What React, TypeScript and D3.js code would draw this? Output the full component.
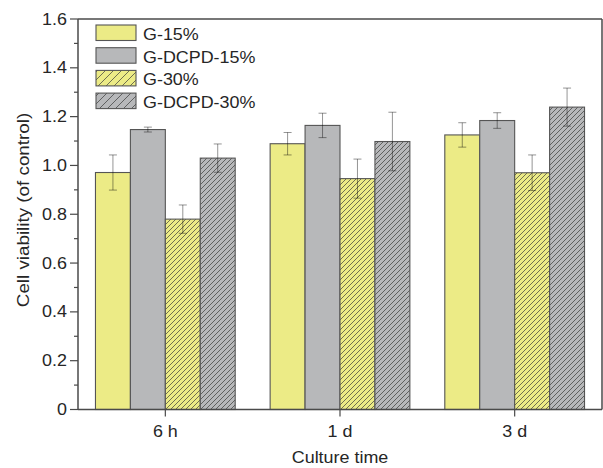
import React from "react";
import * as d3 from "d3";

const categories = ["6 h", "1 d", "3 d"];
const seriesNames = ["G-15%", "G-DCPD-15%", "G-30%", "G-DCPD-30%"];
const gValues15 = [0.971, 1.089, 1.125];
const gDcpd15 = [1.147, 1.164, 1.184];
const gValues30 = [0.78, 0.946, 0.97];
const gDcpd30 = [1.03, 1.098, 1.239];
const gErr15 = [0.072, 0.046, 0.05];
const gDcpdErr15 = [0.01, 0.05, 0.032];
const gErr30 = [0.058, 0.08, 0.073];
const gDcpdErr30 = [0.058, 0.12, 0.078];
const yTicks = [0, 0.2, 0.4, 0.6, 0.8, 1.0, 1.2, 1.4, 1.6];

const W = 603;
const H = 468;
const left = 78;
const right = 602;
const top = 19;
const bottom = 409.5;

const fills = ["#ECEB86", "#B7B8BA", "url(#hatchY)", "url(#hatchG)"];
const legendFills = ["#ECEB86", "#B7B8BA", "url(#hatchYL)", "url(#hatchGL)"];
const TEXT = "#262626";
const AX = "#4a4a4a";
const FONT = "'Liberation Sans', Arial, sans-serif";
const SX = 1.12;

function T({ x, y, anchor = "start", children, rotate = 0, size = 16, sx = SX }: any) {
  return (
    <text
      transform={`translate(${x},${y}) rotate(${rotate}) scale(${sx},1)`}
      textAnchor={anchor}
      fontFamily={FONT}
      fontSize={size}
      fill={TEXT}
    >
      {children}
    </text>
  );
}

export default function App() {
  const values = [gValues15, gDcpd15, gValues30, gDcpd30];
  const errs = [gErr15, gDcpdErr15, gErr30, gDcpdErr30];
  const x0 = d3.scaleBand().domain(categories).range([left, right]).paddingInner(0.2).paddingOuter(0.1);
  const x1 = d3.scaleBand().domain(seriesNames).range([0, x0.bandwidth()]).padding(0);
  const y = d3.scaleLinear().domain([0, 1.6]).range([bottom, top]);
  const minor = d3.range(0, 1.61, 0.1);

  return (
    <svg width={W} height={H} style={{ position: "absolute", left: 0, top: 0, background: "#fff" }}>
      <defs>
        {[
          ["hatchY", "#ECEB86", 5],
          ["hatchG", "#B7B8BA", 5],
          ["hatchYL", "#ECEB86", 8],
          ["hatchGL", "#B7B8BA", 8],
        ].map(([id, c, s]: any) => (
          <pattern key={id} id={id} patternUnits="userSpaceOnUse" width={s} height={s}>
            <rect width={s} height={s} fill={c} />
            <path d={`M0,${s} L${s},0 M${-s / 2},${s / 2} L${s / 2},${-s / 2} M${s / 2},${s * 1.5} L${s * 1.5},${s / 2}`} stroke="#3a3a3a" strokeWidth={0.7} />
          </pattern>
        ))}
      </defs>

      {/* bars */}
      {categories.map((c, ci) =>
        seriesNames.map((s, si) => {
          const v = values[si][ci];
          const bx = (x0(c) as number) + (x1(s) as number);
          return (
            <rect
              key={c + s}
              x={bx}
              y={y(v)}
              width={x1.bandwidth()}
              height={y(0) - y(v)}
              fill={fills[si]}
              stroke="#555"
              strokeWidth={1.1}
            />
          );
        })
      )}

      {/* error bars */}
      {categories.map((c, ci) =>
        seriesNames.map((s, si) => {
          const v = values[si][ci];
          const e = errs[si][ci];
          const cx = (x0(c) as number) + (x1(s) as number) + x1.bandwidth() / 2;
          return (
            <g key={"e" + c + s} stroke="rgba(0,0,0,0.42)" strokeWidth={1}>
              <line x1={cx} x2={cx} y1={y(v + e)} y2={y(v - e)} />
              <line x1={cx - 4} x2={cx + 4} y1={y(v + e)} y2={y(v + e)} />
              <line x1={cx - 4} x2={cx + 4} y1={y(v - e)} y2={y(v - e)} />
            </g>
          );
        })
      )}

      {/* frame */}
      <line x1={left} x2={right} y1={top} y2={top} stroke={AX} strokeWidth={1.5} />
      <line x1={right} x2={right} y1={top} y2={bottom} stroke={AX} strokeWidth={1.5} />
      <line x1={left} x2={left} y1={top} y2={bottom} stroke={AX} strokeWidth={1.5} />
      <line x1={left} x2={right} y1={bottom} y2={bottom} stroke={AX} strokeWidth={1.5} />

      {/* y ticks */}
      {minor.map((t, i) => (
        <line key={"m" + i} x1={left - (i % 2 === 0 ? 8 : 4)} x2={left} y1={y(t)} y2={y(t)} stroke={AX} strokeWidth={1.2} />
      ))}
      {yTicks.map((t) => (
        <T key={"yl" + t} x={67} y={y(t) + 5.5} anchor="end">
          {t === 0 ? "0" : d3.format(".1f")(t)}
        </T>
      ))}

      {/* x ticks */}
      {categories.map((c) => {
        const cx = (x0(c) as number) + x0.bandwidth() / 2;
        return (
          <g key={"x" + c}>
            <line x1={cx} x2={cx} y1={bottom} y2={bottom + 7} stroke={AX} strokeWidth={1.2} />
            <T x={cx} y={437} anchor="middle">{c}</T>
          </g>
        );
      })}

      <T x={340} y={463} anchor="middle">Culture time</T>
      <T x={28.5} y={210} anchor="middle" rotate={-90} size={16.5} sx={1.14}>Cell viability (of control)</T>

      {/* legend */}
      {seriesNames.map((s, i) => {
        const ly = 25 + i * 22.7;
        return (
          <g key={"lg" + s}>
            <rect x={96} y={ly} width={40} height={15.5} fill={legendFills[i]} stroke="#555" strokeWidth={1.1} />
            <T x={143} y={ly + 15}>{s}</T>
          </g>
        );
      })}
    </svg>
  );
}
